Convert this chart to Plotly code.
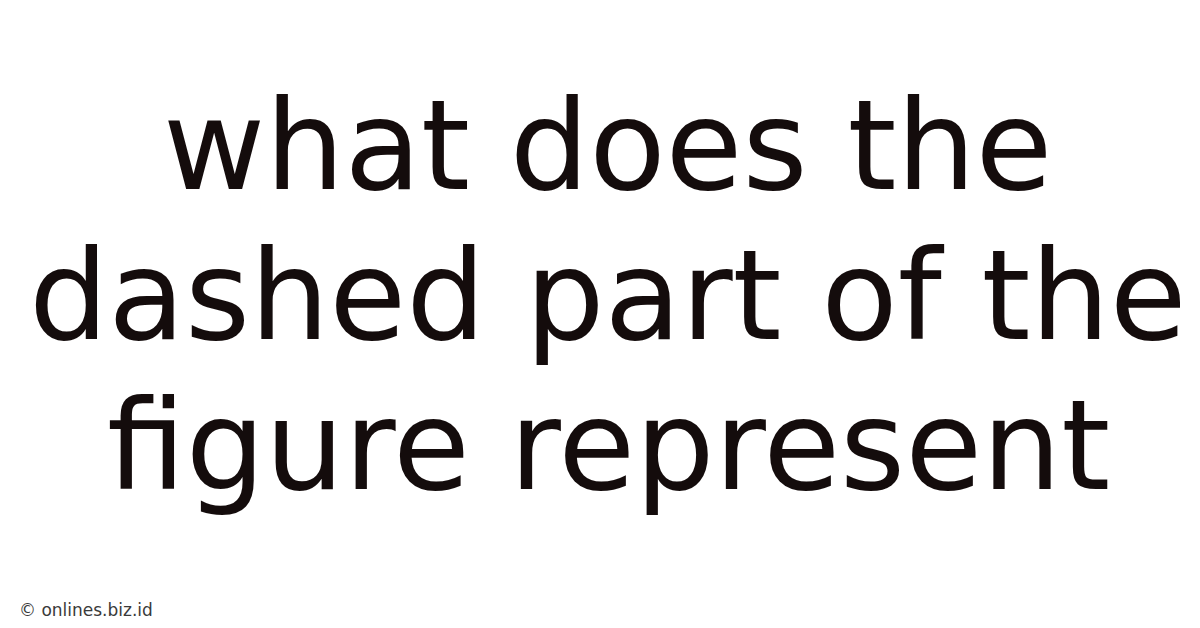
import plotly.graph_objects as go

# text content of the card
title_lines = ["what does the", "dashed part of the", "figure represent"]
line_centers_px = [137, 287, 437]  # vertical centre of each line, px from top
watermark = "© onlines.biz.id"

W, H = 1200, 628

fig = go.Figure()

for txt, yc in zip(title_lines, line_centers_px):
    fig.add_annotation(
        text=txt, x=0.5, y=1 - yc / H, xref="paper", yref="paper",
        xanchor="center", yanchor="middle", showarrow=False,
        font=dict(family="DejaVu Sans", size=125, color="#140c0c"),
    )

# small site credit bottom left
fig.add_annotation(
    text=watermark, x=9 / W, y=1 - 602 / H, xref="paper", yref="paper",
    xanchor="left", yanchor="middle", showarrow=False,
    font=dict(family="DejaVu Sans", size=17, color="#3a3a3a"),
)

fig.update_layout(
    width=W, height=H,
    margin=dict(l=0, r=0, t=0, b=0),
    paper_bgcolor="white", plot_bgcolor="white",
    xaxis=dict(visible=False, range=[0, 1]),
    yaxis=dict(visible=False, range=[0, 1]),
    showlegend=False,
)

fig.write_html("out.html")
